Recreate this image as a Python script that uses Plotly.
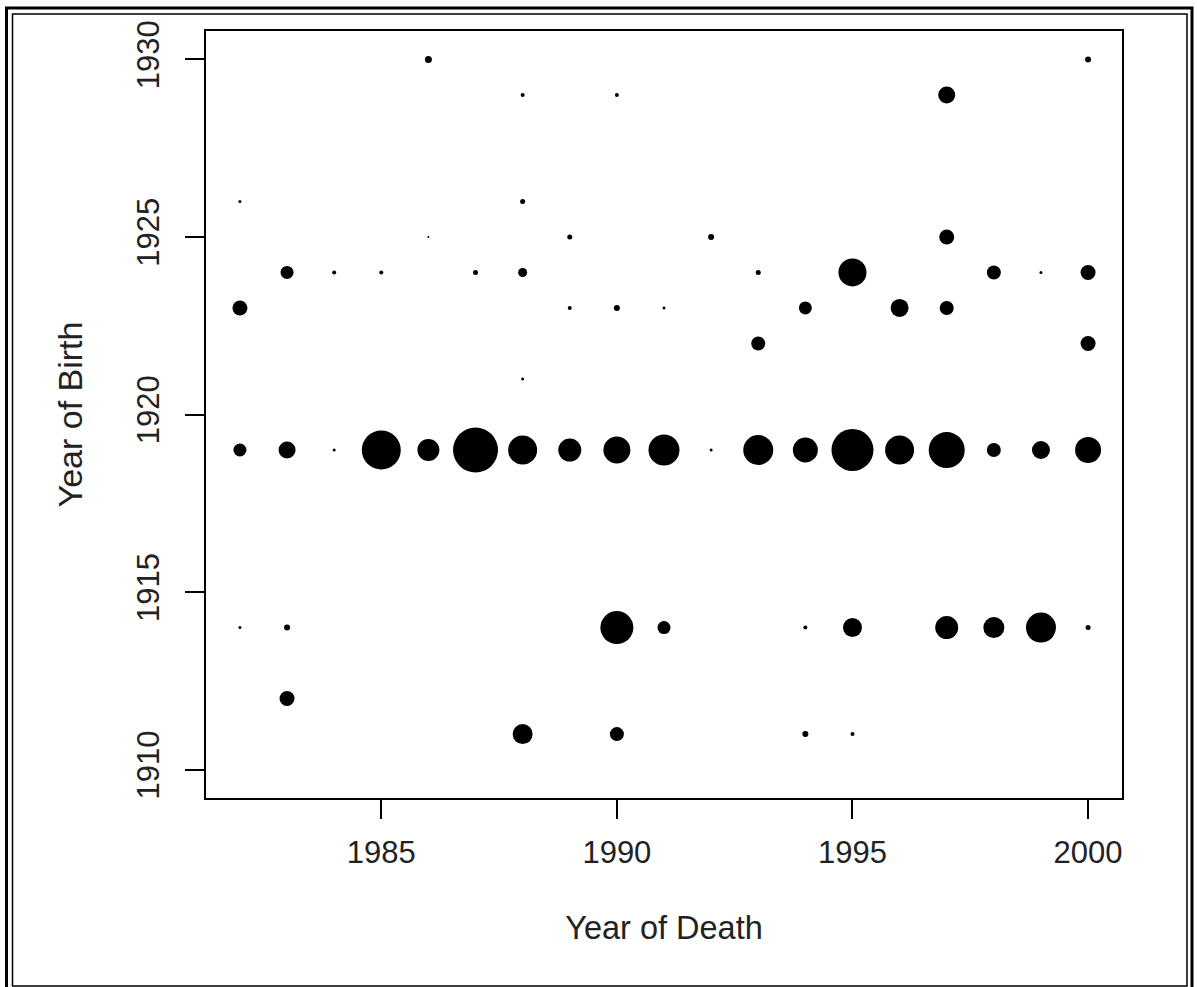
import plotly.graph_objects as go

# Year of death (x), year of birth (y), circle diameter (relative frequency)
death = [1986, 2000,
         1988, 1990, 1997,
         1982, 1988,
         1986, 1989, 1992, 1997,
         1983, 1984, 1985, 1987, 1988, 1993, 1995, 1998, 1999, 2000,
         1982, 1989, 1990, 1991, 1994, 1996, 1997,
         1993, 2000,
         1988,
         1982, 1983, 1984, 1985, 1986, 1987, 1988, 1989, 1990, 1991,
         1992, 1993, 1994, 1995, 1996, 1997, 1998, 1999, 2000,
         1982, 1983, 1990, 1991, 1994, 1995, 1997, 1998, 1999, 2000,
         1983,
         1988, 1990, 1994, 1995]
birth = [1930, 1930,
         1929, 1929, 1929,
         1926, 1926,
         1925, 1925, 1925, 1925,
         1924, 1924, 1924, 1924, 1924, 1924, 1924, 1924, 1924, 1924,
         1923, 1923, 1923, 1923, 1923, 1923, 1923,
         1922, 1922,
         1921,
         1919, 1919, 1919, 1919, 1919, 1919, 1919, 1919, 1919, 1919,
         1919, 1919, 1919, 1919, 1919, 1919, 1919, 1919, 1919,
         1914, 1914, 1914, 1914, 1914, 1914, 1914, 1914, 1914, 1914,
         1912,
         1911, 1911, 1911, 1911]
circle = [7, 6,
          4, 4, 17,
          3, 5,
          2, 5, 6, 15,
          13, 4, 4, 5, 9, 5, 28, 14, 3, 15,
          15, 4, 6, 3, 13, 18, 14,
          14, 15,
          3,
          13, 17, 3, 39, 22, 45, 29, 23, 27, 31,
          3, 30, 25, 42, 29, 36, 14, 18, 26,
          3, 6, 33, 13, 4, 19, 23, 21, 30, 5,
          15,
          20, 14, 6, 4]

x_ticks = [1985, 1990, 1995, 2000]
y_ticks = [1910, 1915, 1920, 1925, 1930]

W, H = 1197, 987
L, R, T, B = 206, 1122, 31, 798

fig = go.Figure(go.Scatter(
    x=death, y=birth, mode="markers",
    marker=dict(size=circle, sizemode="diameter", color="black",
                opacity=1, line=dict(width=0)),
    hoverinfo="x+y"))

family = "Liberation Sans, Arial, sans-serif"
tick_font = dict(family=family, size=31, color="#222")

axis_common = dict(showgrid=False, zeroline=False, showline=True, mirror=True,
                   linecolor="black", linewidth=1.5, ticks="outside",
                   ticklen=19, tickwidth=1.5, tickcolor="black",
                   tickfont=tick_font)

fig.update_xaxes(range=[1981.28, 2000.72], tickvals=x_ticks,
                 ticklabelstandoff=7,
                 title=dict(text="Year of Death",
                            font=dict(family=family, size=32.5, color="#222"),
                            standoff=47),
                 **axis_common)
fig.update_yaxes(range=[1909.2, 1930.8], tickvals=y_ticks, tickangle=-90,
                 ticklabelstandoff=14,
                 title=dict(text="Year of Birth",
                            font=dict(family=family, size=34, color="#222"),
                            standoff=38),
                 **axis_common)


def px_x(p):
    return (p - L) / (R - L)


def px_y(p):
    return (B - p) / (B - T)


shapes = [
    dict(type="rect", xref="paper", yref="paper",
         x0=px_x(6.5), x1=px_x(1192), y0=px_y(992), y1=px_y(8),
         line=dict(color="black", width=3)),
    dict(type="rect", xref="paper", yref="paper",
         x0=px_x(12.5), x1=px_x(1187), y0=px_y(986), y1=px_y(14),
         line=dict(color="black", width=1.5)),
]

fig.update_layout(width=W, height=H, autosize=False,
                  margin=dict(l=L, r=W - R, t=T, b=H - B, autoexpand=False),
                  paper_bgcolor="white", plot_bgcolor="white",
                  showlegend=False, shapes=shapes)

fig.write_html("out.html")
